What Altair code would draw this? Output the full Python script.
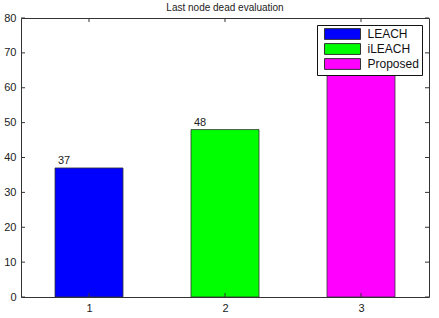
import altair as alt
import pandas as pd

# data
categories = ["LEACH", "iLEACH", "Proposed"]
positions = [1, 2, 3]
values = [37, 48, 70]
colors = ["#0000FF", "#00FF00", "#FF00FF"]
xticks = [1, 2, 3]
yticks = [0, 10, 20, 30, 40, 50, 60, 70, 80]

W, H = 408, 279
FONT = "Liberation Sans"

df = pd.DataFrame({"pos": positions, "val": values, "cat": categories})
dfx = pd.DataFrame({"t": xticks})
dfy = pd.DataFrame({"t": yticks})

xscale = alt.Scale(domain=[0.5, 3.5], nice=False, zero=False, padding=0)
yscale = alt.Scale(domain=[0, 80], nice=False, padding=0)

xaxis = alt.Axis(values=xticks, format="d", title=None, tickSize=0, labelPadding=5,
                 grid=False, domain=False, labelFont=FONT, labelFontSize=11,
                 labelColor="#222", labelOverlap=False)
yaxis = alt.Axis(values=yticks, title=None, tickSize=0, labelPadding=5,
                 grid=False, domain=False, labelFont=FONT, labelFontSize=11,
                 labelColor="#222", labelOverlap=False)

base = alt.Chart(df).transform_calculate(
    x0="datum.pos - 0.25", x1="datum.pos + 0.25"
)

bars = base.mark_bar(stroke="#333", strokeWidth=0.8).encode(
    x=alt.X("x0:Q", scale=xscale, axis=xaxis),
    x2="x1:Q",
    y=alt.Y("val:Q", scale=yscale, axis=yaxis),
    y2=alt.datum(0),
    color=alt.Color("cat:N", scale=alt.Scale(domain=categories, range=colors),
                    legend=alt.Legend(
                        title=None, orient="none", legendX=296, legendY=7,
                        fillColor="white", strokeColor="#111", padding=3,
                        symbolType="M-4,-1.2H4V1.2H-4Z", symbolSize=81,
                        symbolOffset=16.5,
                        symbolStrokeColor="#333", symbolStrokeWidth=1,
                        symbolOpacity=1,
                        labelFont=FONT, labelFontSize=12, labelColor="#111",
                        labelOffset=19, rowPadding=-1,
                    )),
)

labels = base.mark_text(align="left", baseline="bottom", dx=3, dy=-2,
                        font=FONT, fontSize=11, color="#222").encode(
    x=alt.X("x0:Q", scale=xscale, axis=xaxis),
    y=alt.Y("val:Q", scale=yscale, axis=yaxis),
    text=alt.Text("val:Q"),
)

tick_style = dict(color="#333", strokeWidth=1)
top_ticks = alt.Chart(dfx).mark_rule(**tick_style).encode(
    x=alt.X("t:Q", scale=xscale, axis=xaxis), y=alt.value(0), y2=alt.value(4))
bot_ticks = alt.Chart(dfx).mark_rule(**tick_style).encode(
    x=alt.X("t:Q", scale=xscale, axis=xaxis), y=alt.value(H - 4), y2=alt.value(H))
left_ticks = alt.Chart(dfy).mark_rule(**tick_style).encode(
    y=alt.Y("t:Q", scale=yscale, axis=yaxis), x=alt.value(0), x2=alt.value(4))
right_ticks = alt.Chart(dfy).mark_rule(**tick_style).encode(
    y=alt.Y("t:Q", scale=yscale, axis=yaxis), x=alt.value(W - 4), x2=alt.value(W))

chart = alt.layer(bars, labels, top_ticks, bot_ticks, left_ticks, right_ticks).properties(
    width=W, height=H,
    title=alt.Title("Last node dead evaluation", font=FONT, fontSize=10,
                    fontWeight="normal", color="#222", offset=-1),
    autosize=alt.AutoSizeParams(type="none"),
    padding={"left": 21, "top": 18, "right": 10, "bottom": 21},
    background="white",
).configure_view(stroke="#333", strokeWidth=1)

chart.save("out.html", embed_options={"renderer": "svg", "actions": False})
